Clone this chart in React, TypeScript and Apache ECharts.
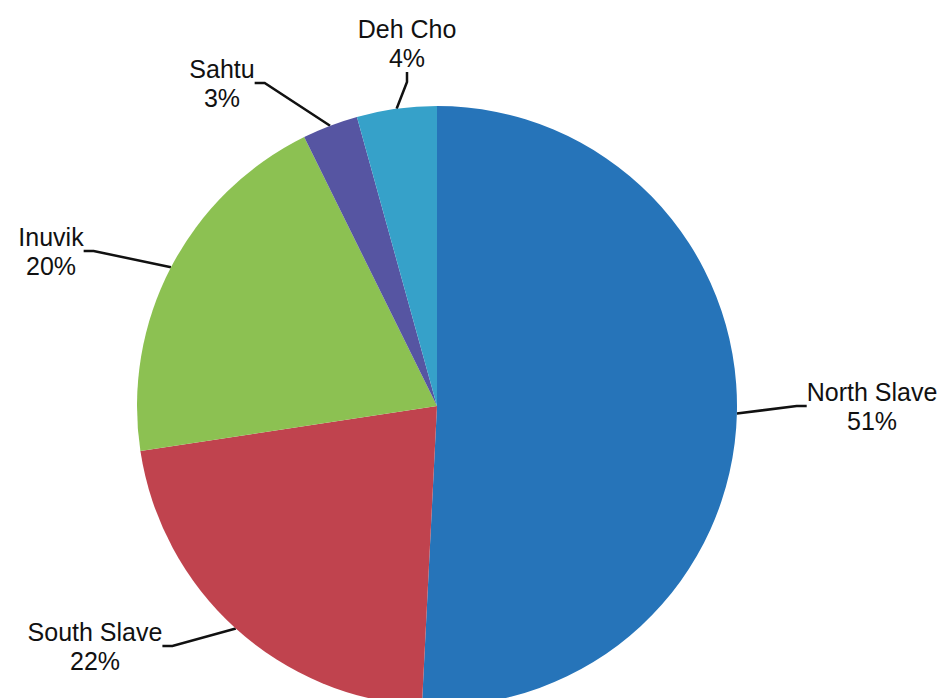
import React, { useEffect, useRef } from "react";
import * as echarts from "echarts";

const categories = ["North Slave", "South Slave", "Inuvik", "Sahtu", "Deh Cho"];
const values = [50.8, 21.8, 20.1, 3.0, 4.3];
const colors = ["#2674b9", "#c0434e", "#8cc152", "#5655a2", "#36a1c9"];
// label anchor positions (text block centers)
const labelPos: [number, number][] = [
  [872, 406],
  [95, 646],
  [51, 251],
  [222, 83],
  [407, 43],
];

export default function App() {
  const ref = useRef<HTMLDivElement>(null);
  useEffect(() => {
    if (!ref.current) return;
    const chart = echarts.init(ref.current, undefined, { renderer: "svg" });
    chart.setOption({
      animation: false,
      backgroundColor: "#ffffff",
      series: [
        {
          type: "pie",
          center: [437, 406],
          radius: 300,
          startAngle: 90,
          clockwise: true,
          data: categories.map((name, i) => ({
            name,
            value: values[i],
            itemStyle: { color: colors[i] },
          })),
          label: {
            show: true,
            position: "outside",
            formatter: (p: any) => `${p.name}\n${Math.round(p.percent)}%`,
            color: "#111111",
            fontFamily: "Liberation Sans, Arial, sans-serif",
            fontSize: 25,
            lineHeight: 29,
            align: "center",
          },
          labelLine: {
            show: true,
            length: 20,
            length2: 10,
            lineStyle: { color: "#111111", width: 2.5 },
          },
          labelLayout: (params: any) => {
            const p = labelPos[params.dataIndex];
            return {
              x: p[0],
              y: p[1],
              align: "center",
              verticalAlign: "middle",
            };
          },
        },
      ],
    });
    return () => chart.dispose();
  }, []);
  return (
    <div
      ref={ref}
      style={{ position: "fixed", left: 0, top: 0, width: 943, height: 698 }}
    />
  );
}
